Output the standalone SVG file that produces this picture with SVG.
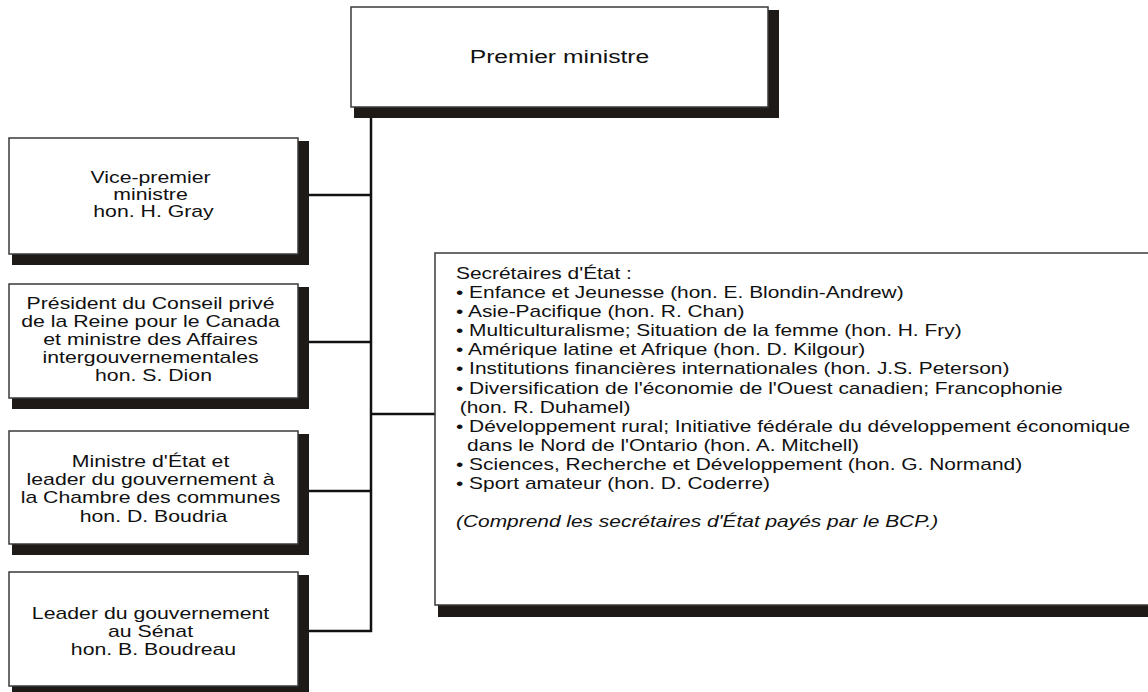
<svg xmlns="http://www.w3.org/2000/svg" width="1148" height="692" viewBox="0 0 1148 692">
<style>
.box{fill:#fff;stroke:#3a3a3a;stroke-width:1.5}
.sh{fill:#1e1a17}
.t{font-family:"Liberation Sans",Arial,sans-serif;font-size:17px;fill:#111}
.c{text-anchor:middle}
.conn{stroke:#111;stroke-width:2.5;fill:none}
</style>
<rect width="1148" height="692" fill="#fff"/>
<g id="connectors">
<line class="conn" x1="371" y1="116" x2="371" y2="632"/>
<line class="conn" x1="305" y1="195" x2="371" y2="195"/>
<line class="conn" x1="305" y1="342" x2="371" y2="342"/>
<line class="conn" x1="305" y1="491" x2="371" y2="491"/>
<line class="conn" x1="305" y1="631" x2="372" y2="631"/>
<line class="conn" x1="371" y1="414" x2="436" y2="414"/>
</g>
<g id="premier">
<rect class="sh" x="354" y="10" width="425" height="108"/>
<rect class="box" x="351" y="7" width="417" height="100"/>
<g transform="translate(559.5,0) scale(1.3,1)"><text class="t c" x="0" y="63" style="font-size:19px">Premier ministre</text></g>
</g>
<g id="vice-premier">
<rect class="sh" x="12" y="141" width="297" height="124"/>
<rect class="box" x="9" y="138" width="289" height="116"/>
<g transform="translate(153.5,0) scale(1.25,1)"><text class="t c">
<tspan x="0" y="183">Vice-premier</tspan>
<tspan x="0" y="200">ministre</tspan>
<tspan x="0" y="217">hon. H. Gray</tspan></text></g>
</g>
<g id="president-conseil">
<rect class="sh" x="12" y="287" width="297" height="122"/>
<rect class="box" x="9" y="284" width="289" height="114"/>
<g transform="translate(153.5,0) scale(1.25,1)"><text class="t c">
<tspan x="0" y="309">Président du Conseil privé</tspan>
<tspan x="0" y="327">de la Reine pour le Canada</tspan>
<tspan x="0" y="345">et ministre des Affaires</tspan>
<tspan x="0" y="363">intergouvernementales</tspan>
<tspan x="0" y="381">hon. S. Dion</tspan></text></g>
</g>
<g id="ministre-etat">
<rect class="sh" x="12" y="434" width="297" height="121"/>
<rect class="box" x="9" y="431" width="289" height="113"/>
<g transform="translate(153.5,0) scale(1.25,1)"><text class="t c">
<tspan x="0" y="467">Ministre d'État et</tspan>
<tspan x="0" y="485">leader du gouvernement à</tspan>
<tspan x="0" y="503">la Chambre des communes</tspan>
<tspan x="0" y="522">hon. D. Boudria</tspan></text></g>
</g>
<g id="leader-senat">
<rect class="sh" x="12" y="575" width="297" height="122"/>
<rect class="box" x="9" y="572" width="289" height="114"/>
<g transform="translate(153.5,0) scale(1.25,1)"><text class="t c">
<tspan x="0" y="619">Leader du gouvernement</tspan>
<tspan x="0" y="637">au Sénat</tspan>
<tspan x="0" y="655">hon. B. Boudreau</tspan></text></g>
</g>
<g id="secretaires">
<rect class="sh" x="438" y="256" width="730" height="361"/>
<rect class="box" x="435" y="253" width="720" height="352"/>
<g transform="translate(456,0) scale(1.23,1)"><text class="t">
<tspan x="0" y="279">Secrétaires d'État :</tspan>
<tspan x="0" y="298">• Enfance et Jeunesse (hon. E. Blondin-Andrew)</tspan>
<tspan x="0" y="317">• Asie-Pacifique (hon. R. Chan)</tspan>
<tspan x="0" y="336">• Multiculturalisme; Situation de la femme (hon. H. Fry)</tspan>
<tspan x="0" y="355">• Amérique latine et Afrique (hon. D. Kilgour)</tspan>
<tspan x="0" y="374">• Institutions financières internationales (hon. J.S. Peterson)</tspan>
<tspan x="0" y="394">• Diversification de l'économie de l'Ouest canadien; Francophonie</tspan>
<tspan x="3" y="413">(hon. R. Duhamel)</tspan>
<tspan x="0" y="432">• Développement rural; Initiative fédérale du développement économique</tspan>
<tspan x="9" y="451">dans le Nord de l'Ontario (hon. A. Mitchell)</tspan>
<tspan x="0" y="470">• Sciences, Recherche et Développement (hon. G. Normand)</tspan>
<tspan x="0" y="489">• Sport amateur (hon. D. Coderre)</tspan>
<tspan x="0" y="527" font-style="italic">(Comprend les secrétaires d'État payés par le BCP.)</tspan></text></g>
</g>
</svg>
